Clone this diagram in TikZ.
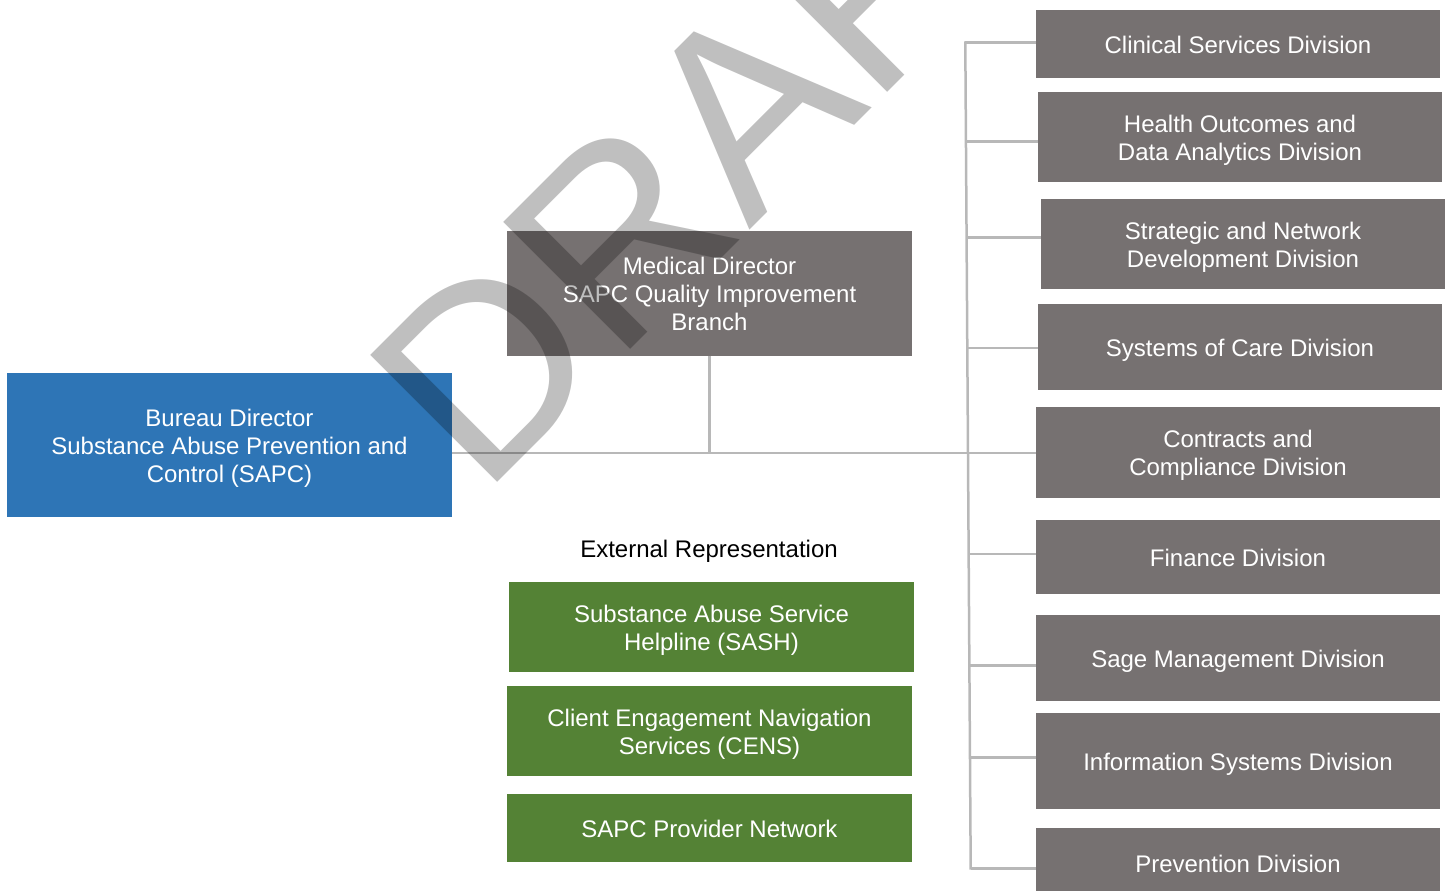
\documentclass[tikz,border=0pt]{standalone}
\usepackage{fontspec}
\setmainfont{Liberation Sans}
\definecolor{unitgray}{RGB}{118,113,113}
\definecolor{bureaublue}{RGB}{46,117,182}
\definecolor{extgreen}{RGB}{84,130,53}
\definecolor{linkgray}{RGB}{184,184,184}
\newcommand\boxstrut{\rule[-0.21em]{0pt}{1.21em}}
\tikzset{
  bw/.style={minimum width=#1*0.5pt, text width=#1*0.5pt},
  bh/.style={minimum height=#1*0.5pt},
  unitbox/.style={draw=none, inner sep=0pt, align=flush center, text=white,
    font=\fontsize{12}{14}\selectfont,
    % fixed baseline spacing, and struts so every label sits in a full line box
    execute at begin node={\lineskiplimit=-20pt\relax\boxstrut},
    execute at end node={\boxstrut}},
  graybox/.style={unitbox, fill=unitgray},
  bluebox/.style={unitbox, fill=bureaublue},
  greenbox/.style={unitbox, fill=extgreen},
  link/.style={draw=linkgray, line width=1.25pt}
}
\begin{document}
\begin{tikzpicture}[x=0.5pt,y=-0.5pt]
\useasboundingbox (0,0) rectangle (1445,890);
\clip (0,0) rectangle (1445,890);

% leadership
\node[bluebox, bw=445, bh=144] (bureau) at (229.5,445)
  {Bureau Director\\Substance Abuse Prevention and\\Control (SAPC)};
\node[graybox, bw=405, bh=125] (med) at (709.5,293.5)
  {Medical Director\\SAPC Quality Improvement\\Branch};

% external representation
\node[inner sep=0pt, font=\fontsize{12}{14}\selectfont] (ext) at (709,551) {External Representation};
\node[greenbox, bw=405, bh=90] (g1) at (711.5,627) {Substance Abuse Service\\Helpline (SASH)};
\node[greenbox, bw=405, bh=90] (g2) at (709.5,731) {Client Engagement Navigation\\Services (CENS)};
\node[greenbox, bw=405, bh=68] (g3) at (709.5,828) {SAPC Provider Network};

% divisions
\node[graybox, bw=404, bh=68] (d1) at (1238,44) {Clinical Services Division};
\node[graybox, bw=404, bh=90] (d2) at (1240,137) {Health Outcomes and\\Data Analytics Division};
\node[graybox, bw=404, bh=90] (d3) at (1243,244) {Strategic and Network\\Development Division};
\node[graybox, bw=404, bh=86] (d4) at (1240,347) {Systems of Care Division};
\node[graybox, bw=404, bh=91] (d5) at (1238,452.5) {Contracts and\\Compliance Division};
\node[graybox, bw=404, bh=74] (d6) at (1238,557) {Finance Division};
\node[graybox, bw=404, bh=86] (d7) at (1238,658) {Sage Management Division};
\node[graybox, bw=404, bh=96] (d8) at (1238,761) {Information Systems Division};
\node[graybox, bw=404, bh=70] (d9) at (1238,863) {Prevention Division};

% trunk junctions
\coordinate (j1) at (965.3,42.7);
\coordinate (j2) at (965.8,141.7);
\coordinate (j3) at (966.3,237.7);
\coordinate (j4) at (967.0,348);
\coordinate (j5) at (967.7,453);
\coordinate (j6) at (968.5,554);
\coordinate (j7) at (969.3,665.7);
\coordinate (j8) at (970.0,757.3);
\coordinate (j9) at (970.7,868.3);

% connectors
\draw[link, line cap=rect] (j1) -- (j9);
\foreach \k in {1,...,9}{\draw[link] (j\k) -- (j\k -| d\k.west);}
\draw[link] (bureau.east |- j5) -- (j5);
\draw[link] (med.south) -- (med.south |- j5);

% watermark
\node[rotate=45, anchor=base west, inner sep=0pt,
  text=black, text opacity=0.25, font=\fontsize{130.5}{130.5}\selectfont]
  (wm) at (482.4,497.6) {DRAFT};
\end{tikzpicture}
\end{document}
